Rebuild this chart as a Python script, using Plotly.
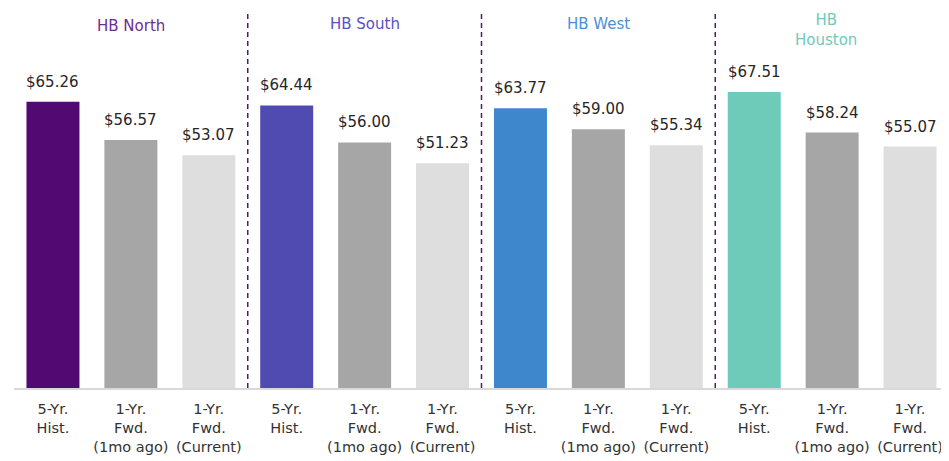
import plotly.graph_objects as go

groups = ["HB North", "HB South", "HB West", "HB<br>Houston"]
group_colors = ["#6b2d96", "#5a4fc2", "#4a90d9", "#6ecab9"]
hist_colors = ["#520a72", "#4f4bb0", "#3f87cc", "#6ecab9"]
categories = ["5-Yr.<br>Hist.", "1-Yr.<br>Fwd.<br>(1mo ago)", "1-Yr.<br>Fwd.<br>(Current)"]
values = [
    [65.26, 56.57, 53.07],
    [64.44, 56.00, 51.23],
    [63.77, 59.00, 55.34],
    [67.51, 58.24, 55.07],
]
grey_colors = ["#a6a6a6", "#dedede"]

xs, ys, cols, ticks = [], [], [], []
for g, vals in enumerate(values):
    for c, v in enumerate(vals):
        xs.append(g * 3 + c)
        ys.append(v)
        cols.append(hist_colors[g] if c == 0 else grey_colors[c - 1])
        ticks.append(categories[c])

fig = go.Figure()
fig.add_trace(go.Bar(x=xs, y=ys, marker=dict(color=cols, line=dict(width=0)),
                     width=0.68, hoverinfo="skip"))

font = "DejaVu Sans"
for x, y in zip(xs, ys):
    fig.add_annotation(x=x, y=y, text="$%.2f" % y, showarrow=False,
                       yanchor="bottom", yshift=9,
                       font=dict(size=15, color="#262626", family=font))

title_y = [0.958, 0.963, 0.963, 1.0]
title_anchor = ["middle", "middle", "middle", "top"]
title_shift = [0, 0, 0, 1]
for g, name in enumerate(groups):
    fig.add_annotation(x=g * 3 + 1 - (0.08 if g == 3 else 0), y=title_y[g], yref="paper",
                       text=name, showarrow=False, yanchor=title_anchor[g],
                       yshift=title_shift[g],
                       font=dict(size=15, color=group_colors[g], family=font))
    if g > 0:
        fig.add_shape(type="line", x0=g * 3 - 0.5, x1=g * 3 - 0.5, y0=0, y1=1,
                      xref="x", yref="paper",
                      line=dict(color="#4b1d6b", width=1.5, dash="5px,4px"))

fig.update_layout(
    width=941, height=453,
    margin=dict(l=6, r=0, t=2, b=73),
    plot_bgcolor="white", paper_bgcolor="white",
    showlegend=False, bargap=0.32,
    font=dict(family=font),
)
fig.update_xaxes(range=[-0.5, 11.5], tickvals=xs, ticktext=ticks,
                 tickfont=dict(size=14.5, color="#333333", family=font),
                 ticklabelstandoff=7,
                 showline=True, linecolor="#d9d9d9", linewidth=2,
                 ticks="", showgrid=False, zeroline=False)
fig.update_yaxes(range=[0, 86.2], visible=False, showgrid=False, zeroline=False)

fig.write_html("out.html")
